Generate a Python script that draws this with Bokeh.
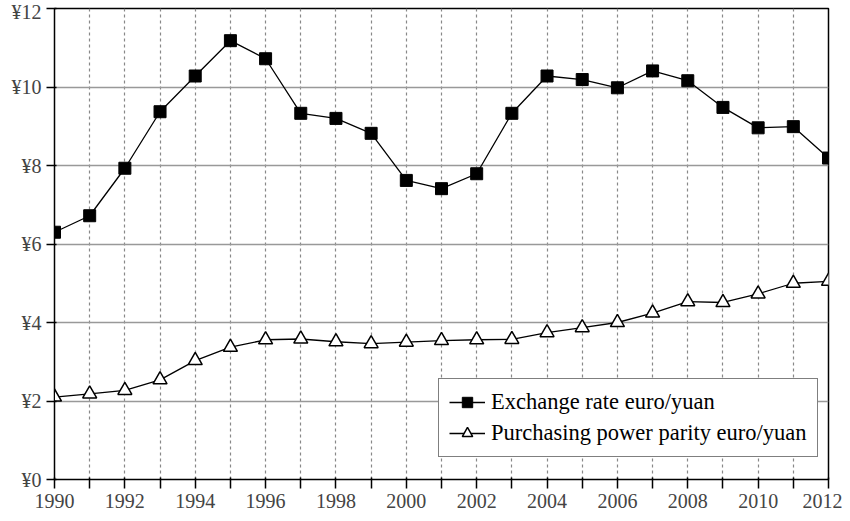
from bokeh.plotting import figure
from bokeh.models import (SingleIntervalTicker, FixedTicker, Legend, LegendItem,
                          LinearAxis)
from bokeh.embed import file_html
from bokeh.resources import INLINE

years = list(range(1990, 2013))
exchange_rate = [6.30, 6.72, 7.93, 9.37, 10.28, 11.18, 10.72, 9.33, 9.20, 8.82,
                 7.62, 7.41, 7.79, 9.33, 10.28, 10.19, 9.98, 10.41, 10.16, 9.48,
                 8.96, 8.99, 8.19]
ppp = [2.10, 2.18, 2.27, 2.54, 3.03, 3.37, 3.56, 3.58, 3.51, 3.46,
       3.50, 3.54, 3.56, 3.57, 3.74, 3.87, 4.00, 4.24, 4.53, 4.51,
       4.73, 5.00, 5.05]
y_ticks = [0, 2, 4, 6, 8, 10, 12]
y_tick_labels = ["¥0", "¥2", "¥4", "¥6", "¥8", "¥10", "¥12"]
x_label_years = list(range(1990, 2013, 2))
series_names = ["Exchange rate euro/yuan", "Purchasing power parity euro/yuan"]

FONT = "Liberation Serif"

p = figure(width=842, height=513, output_backend="svg", toolbar_location=None,
           x_range=(1990, 2012), y_range=(0, 12),
           x_axis_location=None, y_axis_location=None,
           min_border_left=54, min_border_right=14, min_border_top=8,
           min_border_bottom=34)
p.background_fill_color = "white"
p.border_fill_color = "white"
p.outline_line_color = "black"
p.outline_line_width = 1.5

x_overrides = {y: (str(y) if y in x_label_years else "") for y in years}
xaxis = LinearAxis(
    ticker=FixedTicker(ticks=years),
    major_label_overrides=x_overrides,
    major_tick_out=9, major_tick_line_color="black", major_tick_line_width=1.5,
    major_label_text_font=FONT, major_label_text_font_size="20px")
p.add_layout(xaxis, "below")

yaxis = LinearAxis(
    ticker=FixedTicker(ticks=y_ticks),
    major_label_overrides={t: l for t, l in zip(y_ticks, y_tick_labels)},
    major_tick_out=8, major_tick_line_color="black", major_tick_line_width=1.5,
    major_label_text_font=FONT, major_label_text_font_size="20px")
p.add_layout(yaxis, "left")

# grids
p.xgrid.ticker = SingleIntervalTicker(interval=1)
p.xgrid.grid_line_color = "#888888"
p.xgrid.grid_line_dash = "3 3"
p.xgrid.grid_line_width = 1.2
p.ygrid.ticker = FixedTicker(ticks=y_ticks)
p.ygrid.grid_line_color = "#999999"
p.ygrid.grid_line_width = 1.6

# series
l1 = p.line(years, exchange_rate, line_color="black", line_width=1.3)
m1 = p.scatter(years, exchange_rate, marker="square", size=12,
               fill_color="black", line_color="black")
l2 = p.line(years, ppp, line_color="black", line_width=1.3)
m2 = p.scatter(years, ppp, marker="triangle", size=14,
               fill_color="white", line_color="black", line_width=1.5)

legend = Legend(items=[LegendItem(label=series_names[0], renderers=[l1, m1]),
                       LegendItem(label=series_names[1], renderers=[l2, m2])],
                location=(384, 22))
legend.label_text_font = FONT
legend.label_text_font_size = "22.5px"
legend.label_text_color = "black"
legend.border_line_color = "black"
legend.border_line_width = 1.2
legend.background_fill_color = "white"
legend.background_fill_alpha = 1.0
legend.glyph_width = 36
legend.glyph_height = 26
legend.label_height = 26
legend.label_standoff = 6
legend.spacing = 5
legend.padding = 10
legend.margin = 0
p.add_layout(legend, "center")

open("out.html", "w").write(file_html(p, INLINE))
